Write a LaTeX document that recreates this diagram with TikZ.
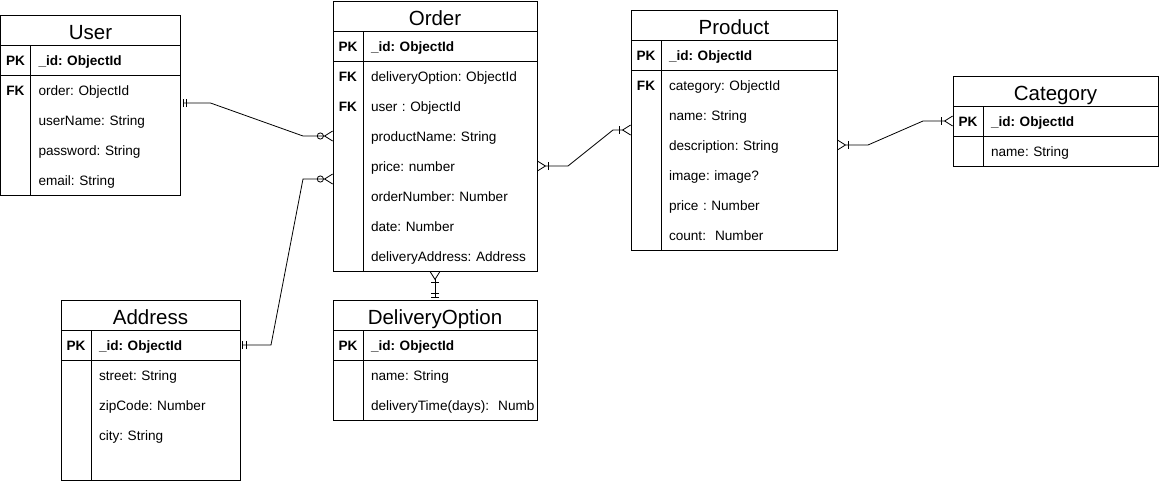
\documentclass[tikz,border=0pt]{standalone}
\usepackage{fontspec}
\setmainfont{Liberation Sans}
\usetikzlibrary{arrows.meta}
\frenchspacing

\begin{document}
\begin{tikzpicture}[x=1pt, y=-1pt,
% common options for the table cells:
title/.style = {draw, anchor=north west, minimum height=30pt, inner sep=0, outer sep=0,
            text height=20pt, text depth=2pt, font=\fontsize{20.5}{24}\selectfont},
key/.style = {anchor=north west, minimum width=30pt, minimum height=30pt, inner sep=0,
            outer sep=0, text height=12pt, text depth=1pt,
            font=\fontsize{13.6}{16}\selectfont\bfseries},
field/.style = {anchor=north west, text width=#1, minimum height=30pt, inner xsep=8pt,
            inner ysep=0, outer sep=0, align=left, text height=12pt, text depth=1pt,
            font=\fontsize{13.6}{16}\selectfont},
pkfield/.style = {field=#1, draw, font=\fontsize{13.6}{16}\selectfont\bfseries},
% common options for the relations:
rel/.style = {line width=0.8pt},
mone/.tip = {Bar[width=8pt,sep=3pt]Bar[width=8pt,sep=2pt]},
zmany/.tip = {Circle[open,length=7pt,sep=0pt]Straight Barb[reversed,length=8pt,width=10pt]},
omany/.tip = {Bar[width=8pt,sep=2pt]Straight Barb[reversed,length=8pt,width=10pt]}]
\useasboundingbox (0,0) rectangle (1159,482);
% User
\node[title, minimum width=180pt] (U) at (0.5,15) {User};
\node[key, draw] (U0k) at (0.5,45) {PK};
\node[pkfield=134pt] (U0) at (30.5,45) {\_id: ObjectId};
\node[key] (U1k) at (0.5,75) {FK};
\node[field=134pt] (U1) at (30.5,75) {order: ObjectId};
\node[key] (U2k) at (0.5,105) {};
\node[field=134pt] (U2) at (30.5,105) {userName: String};
\node[key] (U3k) at (0.5,135) {};
\node[field=134pt] (U3) at (30.5,135) {password: String};
\node[key] (U4k) at (0.5,165) {};
\node[field=134pt] (U4) at (30.5,165) {email: String};
\draw (U1k.north west) rectangle (U4.south east);
\draw (U1k.north east) -- (U4k.south east);
% Order
\node[title, minimum width=204pt] (O) at (333,1) {Order};
\node[key, draw] (O0k) at (333,31) {PK};
\node[pkfield=158pt] (O0) at (363,31) {\_id: ObjectId};
\node[key] (O1k) at (333,61) {FK};
\node[field=158pt] (O1) at (363,61) {deliveryOption: ObjectId};
\node[key] (O2k) at (333,91) {FK};
\node[field=158pt] (O2) at (363,91) {user : ObjectId};
\node[key] (O3k) at (333,121) {};
\node[field=158pt] (O3) at (363,121) {productName: String};
\node[key] (O4k) at (333,151) {};
\node[field=158pt] (O4) at (363,151) {price: number};
\node[key] (O5k) at (333,181) {};
\node[field=158pt] (O5) at (363,181) {orderNumber: Number};
\node[key] (O6k) at (333,211) {};
\node[field=158pt] (O6) at (363,211) {date: Number};
\node[key] (O7k) at (333,241) {};
\node[field=158pt] (O7) at (363,241) {deliveryAddress:~Address};
\draw (O1k.north west) rectangle (O7.south east);
\draw (O1k.north east) -- (O7k.south east);
% Product
\node[title, minimum width=206pt] (P) at (631,10) {Product};
\node[key, draw] (P0k) at (631,40) {PK};
\node[pkfield=160pt] (P0) at (661,40) {\_id: ObjectId};
\node[key] (P1k) at (631,70) {FK};
\node[field=160pt] (P1) at (661,70) {category: ObjectId};
\node[key] (P2k) at (631,100) {};
\node[field=160pt] (P2) at (661,100) {name: String};
\node[key] (P3k) at (631,130) {};
\node[field=160pt] (P3) at (661,130) {description: String};
\node[key] (P4k) at (631,160) {};
\node[field=160pt] (P4) at (661,160) {image: image?};
\node[key] (P5k) at (631,190) {};
\node[field=160pt] (P5) at (661,190) {price : Number};
\node[key] (P6k) at (631,220) {};
\node[field=160pt] (P6) at (661,220) {count: ~Number};
\draw (P1k.north west) rectangle (P6.south east);
\draw (P1k.north east) -- (P6k.south east);
% Category
\node[title, minimum width=205pt] (C) at (953,76) {Category};
\node[key, draw] (C0k) at (953,106) {PK};
\node[pkfield=159pt] (C0) at (983,106) {\_id: ObjectId};
\node[key] (C1k) at (953,136) {};
\node[field=159pt] (C1) at (983,136) {name: String};
\draw (C1k.north west) rectangle (C1.south east);
\draw (C1k.north east) -- (C1k.south east);
% Address
\node[title, minimum width=179pt] (A) at (61,300) {Address};
\node[key, draw] (A0k) at (61,330) {PK};
\node[pkfield=133pt] (A0) at (91,330) {\_id: ObjectId};
\node[key] (A1k) at (61,360) {};
\node[field=133pt] (A1) at (91,360) {street: String};
\node[key] (A2k) at (61,390) {};
\node[field=133pt] (A2) at (91,390) {zipCode: Number};
\node[key] (A3k) at (61,420) {};
\node[field=133pt] (A3) at (91,420) {city: String};
\node[key] (A4k) at (61,450) {};
\node[field=133pt] (A4) at (91,450) {};
\draw (A1k.north west) rectangle (A4.south east);
\draw (A1k.north east) -- (A4k.south east);
% DeliveryOption
\node[title, minimum width=204pt] (D) at (333,300) {DeliveryOption};
\node[key, draw] (D0k) at (333,330) {PK};
\node[pkfield=158pt] (D0) at (363,330) {\_id: ObjectId};
\node[key] (D1k) at (333,360) {};
\node[field=158pt] (D1) at (363,360) {name: String};
\node[key] (D2k) at (333,390) {};
\node[field=158pt] (D2) at (363,390) {deliveryTime(days):~~Numb};
\draw (D1k.north west) rectangle (D2.south east);
\draw (D1k.north east) -- (D2k.south east);
% relations
\draw[rel, {mone}-{zmany}] ([yshift=2pt]U1.south east) -- ++(30,0)
    -- ([xshift=-30pt]O3k.west) -- (O3k.west);
\draw[rel, {mone}-{zmany}] (A0.east) -- ++(31,0)
    -- ([xshift=-30pt,yshift=2pt]O4k.south west) -- ([yshift=2pt]O4k.south west);
\draw[rel, {omany}-{omany}] (O4.east) -- ++(31,0)
    -- ([xshift=-18pt]P2k.south west) -- (P2k.south west);
\draw[rel, {omany}-{omany}] (P3.east) -- ++(31,0)
    -- ([xshift=-30pt]C0k.west) -- (C0k.west);
\draw[rel, {omany}-{mone}] (O7.south -| D.north) -- (D.north);
\end{tikzpicture}
\end{document}
